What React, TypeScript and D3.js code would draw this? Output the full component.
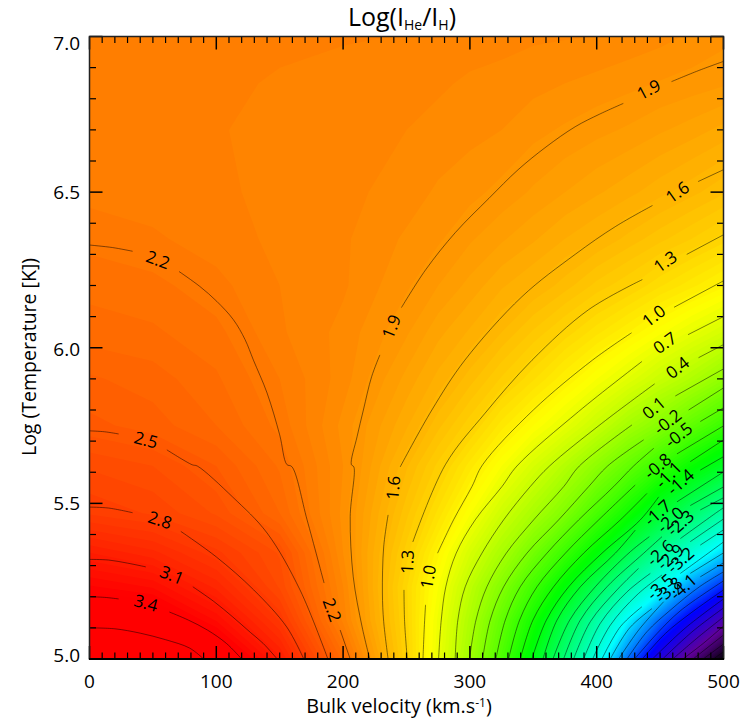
import React from "react";
import * as d3 from "d3";

// field: one row per log T, one value per velocity
const velocityGrid = [0, 50, 100, 150, 200, 250, 275, 300, 325, 350, 375, 400, 425, 450, 475, 500];
const logTGrid = [5.0, 5.125, 5.232, 5.341, 5.468, 5.62, 5.75, 5.9, 6.05, 6.2, 6.35, 6.5, 6.7, 6.85, 7.0];

const row500 = [4.03, 3.93, 3.6, 3.07, 2.3, 1.31, 0.71, 0.09, -0.64, -1.44, -2.34, -3.33, -4.45, -5.52, -6.46, -7.4];
const row512 = [3.62, 3.52, 3.22, 2.8, 2.07, 1.28, 0.75, 0.2, -0.43, -1.11, -1.89, -2.75, -3.6, -4.47, -5.24, -6.0];
const row523 = [3.3, 3.22, 2.97, 2.62, 2.03, 1.26, 0.83, 0.33, -0.16, -0.73, -1.33, -2.03, -2.77, -3.41, -4.24, -4.87];
const row534 = [3.05, 2.95, 2.77, 2.56, 1.97, 1.34, 0.97, 0.54, 0.16, -0.3, -0.79, -1.31, -1.96, -2.6, -3.22, -3.8];
const row547 = [2.74, 2.68, 2.56, 2.33, 1.95, 1.45, 1.17, 0.84, 0.47, 0.16, -0.2, -0.67, -1.14, -1.7, -2.2, -2.74];
const row562 = [2.62, 2.57, 2.45, 2.26, 1.97, 1.56, 1.35, 1.1, 0.83, 0.54, 0.25, -0.08, -0.44, -0.82, -1.22, -1.58];
const row575 = [2.47, 2.42, 2.33, 2.19, 1.95, 1.68, 1.51, 1.33, 1.1, 0.89, 0.68, 0.42, 0.12, -0.14, -0.47, -0.8];
const row590 = [2.4, 2.36, 2.28, 2.15, 2.0, 1.77, 1.65, 1.52, 1.36, 1.2, 1.02, 0.83, 0.64, 0.42, 0.21, -0.05];
const row605 = [2.3, 2.28, 2.23, 2.1, 2.01, 1.86, 1.75, 1.66, 1.55, 1.42, 1.29, 1.15, 1.01, 0.85, 0.69, 0.52];
const row620 = [2.25, 2.23, 2.17, 2.09, 2.04, 1.92, 1.85, 1.77, 1.68, 1.61, 1.52, 1.41, 1.32, 1.2, 1.09, 0.97];
const row635 = [2.19, 2.16, 2.12, 2.075, 2.04, 1.96, 1.92, 1.86, 1.8, 1.74, 1.67, 1.61, 1.53, 1.45, 1.37, 1.28];
const row650 = [2.13, 2.12, 2.1, 2.075, 2.05, 2.0, 1.96, 1.93, 1.89, 1.84, 1.79, 1.74, 1.69, 1.63, 1.57, 1.5];
const row670 = [2.1, 2.1, 2.095, 2.07, 2.055, 2.03, 2.01, 1.99, 1.97, 1.93, 1.9, 1.87, 1.84, 1.8, 1.76, 1.71];
const row685 = [2.1, 2.1, 2.1, 2.085, 2.07, 2.05, 2.04, 2.02, 2.01, 1.99, 1.97, 1.95, 1.93, 1.905, 1.885, 1.86];
const row700 = [2.1, 2.1, 2.1, 2.1, 2.095, 2.088, 2.07, 2.06, 2.05, 2.04, 2.035, 2.03, 2.01, 1.99, 1.96, 1.93];
const fieldRows = [row500, row512, row523, row534, row547, row562, row575, row590, row605, row620, row635, row650, row670, row685, row700];

// contour lines as [velocity, logT], split where the label sits
const line37 = [[[0, 5.1], [20, 5.097], [40, 5.083], [60, 5.062], [79, 5.035], [90, 5]]];
const line34 = [[[0, 5.2], [12, 5.198], [23, 5.193]], [[63, 5.151], [78, 5.125], [93, 5.093], [108, 5.05], [120, 5]]];
const line31 = [[[0, 5.32], [15, 5.318], [30, 5.308], [44.4, 5.296]], [[81.5, 5.232], [98, 5.185], [113, 5.135], [127, 5.085], [137, 5.05], [148, 5]]];
const line28 = [[[0, 5.488], [15, 5.485], [34, 5.47]], [[72, 5.41], [100, 5.328], [129.5, 5.222], [155.5, 5.103], [169, 5]]];
const line25 = [[[0, 5.733], [12, 5.73], [23, 5.723]], [[61, 5.672], [81, 5.624], [85, 5.62], [113, 5.52], [140, 5.405], [166, 5.222], [188, 5]]];
const line22 = [
  [[0, 6.33], [18, 6.322], [34, 6.31]],
  [[70.6, 6.245], [87, 6.197], [100.4, 6.149], [113.5, 6.09], [122.7, 6.026], [129.3, 5.96], [140, 5.855], [150, 5.72], [155.6, 5.625], [159.6, 5.618], [171.6, 5.447], [185, 5.244]],
  [[197.7, 5.093], [205.6, 5]],
];
const line19 = [
  [[221, 5], [215, 5.103], [208, 5.264], [205.6, 5.457], [208.5, 5.617], [206.5, 5.625], [211, 5.714], [216, 5.8], [222.5, 5.907], [229, 5.977]],
  [[246, 6.129], [265, 6.25], [288.5, 6.37], [315, 6.48], [338, 6.572], [360, 6.645], [383, 6.71], [402, 6.75], [421, 6.785]],
  [[459, 6.855], [480, 6.89], [500, 6.92]],
];
const line16 = [
  [[235.5, 5], [232, 5.12], [231, 5.212], [232, 5.36], [235.5, 5.463]],
  [[245, 5.617], [270, 5.8], [296, 5.96], [341, 6.164], [383, 6.3], [415, 6.39], [444, 6.457]],
  [[480, 6.534], [500, 6.572]],
];
const line13 = [
  [[250.6, 5], [248.5, 5.12], [248, 5.222]],
  [[255, 5.376], [280.6, 5.624], [312, 5.79], [349, 5.96], [393.5, 6.122], [436, 6.219]],
  [[471, 6.3], [500, 6.363]],
];
const line10 = [
  [[263, 5], [264, 5.1], [265, 5.174]],
  [[274.5, 5.34], [287.1, 5.447], [301.6, 5.554], [310, 5.624], [350, 5.8], [396.6, 5.96], [427.5, 6.048]],
  [[461, 6.13], [500, 6.215]],
];
const line07 = [[[275.3, 5], [277.4, 5.125], [281, 5.232], [289.2, 5.34], [304.2, 5.447], [325.3, 5.554], [337.1, 5.62], [385.7, 5.795], [435.7, 5.956]], [[472, 6.042], [500, 6.1]]];
const line04 = [[[288.4, 5], [290.5, 5.125], [296.3, 5.232], [309.5, 5.34], [326.6, 5.447], [347.6, 5.554], [362.8, 5.62], [404, 5.757], [445.7, 5.884]], [[480.3, 5.968], [500, 6.01]]];
const line01 = [[[299.7, 5], [304.8, 5.125], [313.4, 5.232], [328.7, 5.34], [350.3, 5.447], [374, 5.554], [386.3, 5.62], [427.8, 5.752]], [[462, 5.845], [500, 5.932]]];
const lineM02 = [[[310, 5], [316, 5.125], [326.6, 5.232], [345, 5.34], [370, 5.447], [393.7, 5.554], [408.6, 5.62], [437, 5.704]], [[472.5, 5.8], [500, 5.871]]];
const lineM05 = [[[320.5, 5], [327.9, 5.125], [339.7, 5.232], [360.8, 5.34], [385.8, 5.447], [413.4, 5.554], [429.1, 5.62], [445, 5.677]], [[481.7, 5.763], [500, 5.807]]];
const lineM08 = [[[330.5, 5], [339.2, 5.125], [352.9, 5.232], [375.3, 5.34], [401.6, 5.447], [430.4, 5.559]], [[463.3, 5.659], [500, 5.749]]];
const lineM11 = [[[339.7, 5], [349.7, 5.125], [366, 5.232], [389.7, 5.34], [418.7, 5.447], [439.6, 5.532]], [[473.8, 5.634], [500, 5.704]]];
const lineM14 = [[[348.9, 5], [360.3, 5.125], [377.9, 5.232], [404.2, 5.34], [434.4, 5.447], [448.9, 5.521]], [[481.7, 5.607], [500, 5.65]]];
const lineM17 = [[[357.6, 5], [368.7, 5.125], [387.1, 5.232], [414.7, 5.34], [430.4, 5.414]], [[463.3, 5.505], [500, 5.601]]];
const lineM20 = [[[365.5, 5], [378.7, 5.125], [398.9, 5.232], [426.6, 5.345], [441.5, 5.393]], [[473.8, 5.493], [500, 5.553]]];
const lineM23 = [[[373.9, 5], [387.1, 5.125], [408.1, 5.232], [437.1, 5.34], [451.5, 5.393]], [[481.7, 5.479], [500, 5.518]]];
const lineM26 = [[[381.8, 5], [395, 5.12], [416, 5.222], [433, 5.291]], [[466, 5.387], [493.6, 5.468], [500, 5.486]]];
const lineM29 = [[[389.7, 5], [402.9, 5.115], [424, 5.216], [442.3, 5.275]], [[473.8, 5.377], [500, 5.45]]];
const lineM32 = [[[396.8, 5], [410.8, 5.109], [431.8, 5.206], [451.5, 5.27]], [[481.7, 5.366], [500, 5.415]]];
const lineM35 = [[[404.1, 5], [418.7, 5.104], [435.7, 5.168]], [[466, 5.275], [488.3, 5.341], [500, 5.376]]];
const lineM38 = [[[410.7, 5], [426, 5.1], [443.6, 5.162]], [[473.8, 5.275], [500, 5.341]]];
const lineM41 = [[[417.3, 5], [433.1, 5.093], [452.8, 5.184]], [[481.7, 5.264], [500, 5.309]]];
const lineM44 = [[[423.9, 5], [439.7, 5.088], [458.1, 5.157], [481, 5.232], [500, 5.28]]];
const lineM47 = [[[429.9, 5], [447.6, 5.082], [466, 5.155], [500, 5.251]]];
const lineM50 = [[[436, 5], [454.2, 5.082], [475, 5.15], [500, 5.222]]];
const lineM53 = [[[444, 5], [470, 5.1], [500, 5.193]]];
const lineM56 = [[[452, 5], [476, 5.09], [500, 5.164]]];
const lineM59 = [[[460, 5], [480, 5.07], [500, 5.135]]];
const lineM62 = [[[468, 5], [484, 5.05], [500, 5.106]]];
const lineM65 = [[[476, 5], [500, 5.077]]];
const lineM68 = [[[484, 5], [500, 5.048]]];
const lineM71 = [[[492, 5], [500, 5.023]]];
const contourLines = [
  line37, line34, line31, line28, line25, line22, line19, line16, line13, line10, line07, line04, line01,
  lineM02, lineM05, lineM08, lineM11, lineM14, lineM17, lineM20, lineM23, lineM26, lineM29, lineM32, lineM35,
  lineM38, lineM41, lineM44, lineM47, lineM50, lineM53, lineM56, lineM59, lineM62, lineM65, lineM68, lineM71,
];

// label text, velocity, logT, rotation
const contourLabels: [string, number, number, number][] = [
  ["2.2", 54, 6.283, 20], ["2.5", 44.6, 5.704, 15], ["2.8", 55.6, 5.447, 18], ["3.1", 65, 5.27, 22], ["3.4", 44.6, 5.18, 15],
  ["2.2", 191.4, 5.158, 70], ["1.9", 238, 6.068, -68], ["1.6", 239.5, 5.55, -85], ["1.3", 250.6, 5.312, -88], ["1.0", 267, 5.264, -80],
  ["1.9", 441, 6.83, -28], ["1.6", 463.6, 6.5, -35], ["1.3", 454, 6.277, -35], ["1.0", 445, 6.103, -38], ["0.7", 453.7, 6.016, -35],
  ["0.4", 463.7, 5.936, -38], ["0.1", 445, 5.807, -40], ["-0.2", 455.8, 5.762, -38], ["-0.5", 464.5, 5.72, -38],
  ["-0.8", 448, 5.62, -40], ["-1.1", 456.6, 5.592, -45], ["-1.4", 466, 5.569, -42],
  ["-1.7", 448, 5.47, -42], ["-2.0", 458, 5.447, -42], ["-2.3", 466, 5.437, -42],
  ["-2.6", 450, 5.341, -42], ["-2.9", 458, 5.328, -42], ["-3.2", 466, 5.318, -42],
  ["-3.5", 450, 5.232, -42], ["-3.8", 456.7, 5.222, -42], ["-4.1", 468.3, 5.232, -42],
];

const xTickLabels = [0, 100, 200, 300, 400, 500];
const yTickLabels = [5.0, 5.5, 6.0, 6.5, 7.0];
const yLabelShift = [3, 7, 8, 7, 13];
const xMinorTicks = d3.range(0, 501, 10);
const yMinorTicks = d3.range(5, 7.001, 0.1);

const colorStops = [-7.5, -6.3, -5.1, -3.6, -1.3, 0.85, 3.3];
const colorNames = ["#000000", "#60009a", "#0000ff", "#00ffff", "#00ff00", "#ffff00", "#ff0000"];
const bandLevels = d3.range(-7.99, 4.0, 0.06);
const whiteAbove = 3.97;

const font = "'Open Sans', sans-serif";

const App = () => {
  const left = 89.5;
  const right = 723.5;
  const top = 36.5;
  const bottom = 659;

  const x = d3.scaleLinear().domain([0, 500]).range([left, right]);
  const y = d3.scaleLinear().domain([5, 7]).range([bottom, top]);
  const color = d3.scaleLinear<string>().domain(colorStops).range(colorNames).clamp(true);

  // d3.contours works in cell coordinates, these map them back on the uneven grid
  const cellX = d3.scaleLinear().domain(velocityGrid.map((_, i) => i + 0.5)).range(velocityGrid).clamp(true);
  const cellY = d3.scaleLinear().domain(logTGrid.map((_, i) => i + 0.5)).range(logTGrid).clamp(true);
  const projection = d3.geoTransform({
    point(px: number, py: number) {
      this.stream.point(x(cellX(px)), y(cellY(py)));
    },
  });
  const path = d3.geoPath(projection);

  const bands = d3
    .contours()
    .size([velocityGrid.length, logTGrid.length])
    .smooth(true)
    .thresholds(bandLevels)(fieldRows.flat());

  const line = d3
    .line()
    .x((d: number[]) => x(d[0]))
    .y((d: number[]) => y(d[1]))
    .curve(d3.curveCatmullRom.alpha(0.5));

  return (
    <svg width={749} height={721} style={{ position: "absolute", left: 0, top: 0, fontFamily: font }}>
      <defs>
        <clipPath id="plot">
          <rect x={left} y={top} width={right - left} height={bottom - top} />
        </clipPath>
      </defs>
      <g clipPath="url(#plot)">
        <rect x={left} y={top} width={right - left} height={bottom - top} fill={color(-8)} />
        {bands.map((b, i) =>
          b.coordinates.length ? (
            <path key={i} d={path(b) ?? ""} fill={b.value >= whiteAbove ? "#ffffff" : color(b.value)} fillRule="evenodd" />
          ) : null
        )}
        {contourLines.map((segments, i) =>
          segments.map((seg, j) => (
            <path key={`${i}-${j}`} d={line(seg as any) ?? ""} fill="none" stroke="#000" strokeOpacity={0.62} strokeWidth={0.8} />
          ))
        )}
      </g>

      {contourLabels.map(([label, v, t, angle], i) => (
        <text
          key={i}
          transform={`translate(${x(v)},${y(t)}) rotate(${angle})`}
          textAnchor="middle"
          dy="0.36em"
          fontSize={17}
          fill="#000"
        >
          {label}
        </text>
      ))}

      <g stroke="#000">
        {xMinorTicks.map((v) => {
          const len = v % 100 === 0 ? 13 : 6.5;
          const w = v % 100 === 0 ? 1.5 : 1.2;
          return (
            <g key={v} strokeWidth={w}>
              <line x1={x(v)} x2={x(v)} y1={bottom} y2={bottom - len} />
              <line x1={x(v)} x2={x(v)} y1={top} y2={top + len} />
            </g>
          );
        })}
        {yMinorTicks.map((t, i) => {
          const major = i % 5 === 0;
          const len = major ? 13 : 6.5;
          return (
            <g key={i} strokeWidth={major ? 1.5 : 1.2}>
              <line x1={left} x2={left + len} y1={y(t)} y2={y(t)} />
              <line x1={right} x2={right - len} y1={y(t)} y2={y(t)} />
            </g>
          );
        })}
      </g>
      <rect x={left} y={top} width={right - left} height={bottom - top} fill="none" stroke="#222" strokeWidth={1.5} />
      <line x1={left - 0.5} x2={right + 0.5} y1={bottom} y2={bottom} stroke="#000" strokeWidth={2} />

      {xTickLabels.map((v) => (
        <text key={v} x={x(v)} y={688} textAnchor="middle" fontSize={19} fill="#000">
          {v}
        </text>
      ))}
      {yTickLabels.map((t, i) => (
        <text key={t} x={80} y={y(t) + yLabelShift[i]} textAnchor="end" fontSize={19} fill="#000">
          {t.toFixed(1)}
        </text>
      ))}

      <text x={402} y={26} textAnchor="middle" fontSize={25} fill="#000">
        Log(I<tspan fontSize={14} dy={4}>He</tspan><tspan dy={-4}>/I</tspan><tspan fontSize={14} dy={4}>H</tspan><tspan dy={-4}>)</tspan>
      </text>
      <text x={399} y={713} textAnchor="middle" fontSize={19.8} fill="#000">
        Bulk velocity (km.s<tspan fontSize={12} dy={-6}>-1</tspan><tspan dy={6}>)</tspan>
      </text>
      <text transform="translate(35.5,357) rotate(-90)" textAnchor="middle" fontSize={19.5} fill="#000">
        Log (Temperature [K])
      </text>
    </svg>
  );
};

export default App;
